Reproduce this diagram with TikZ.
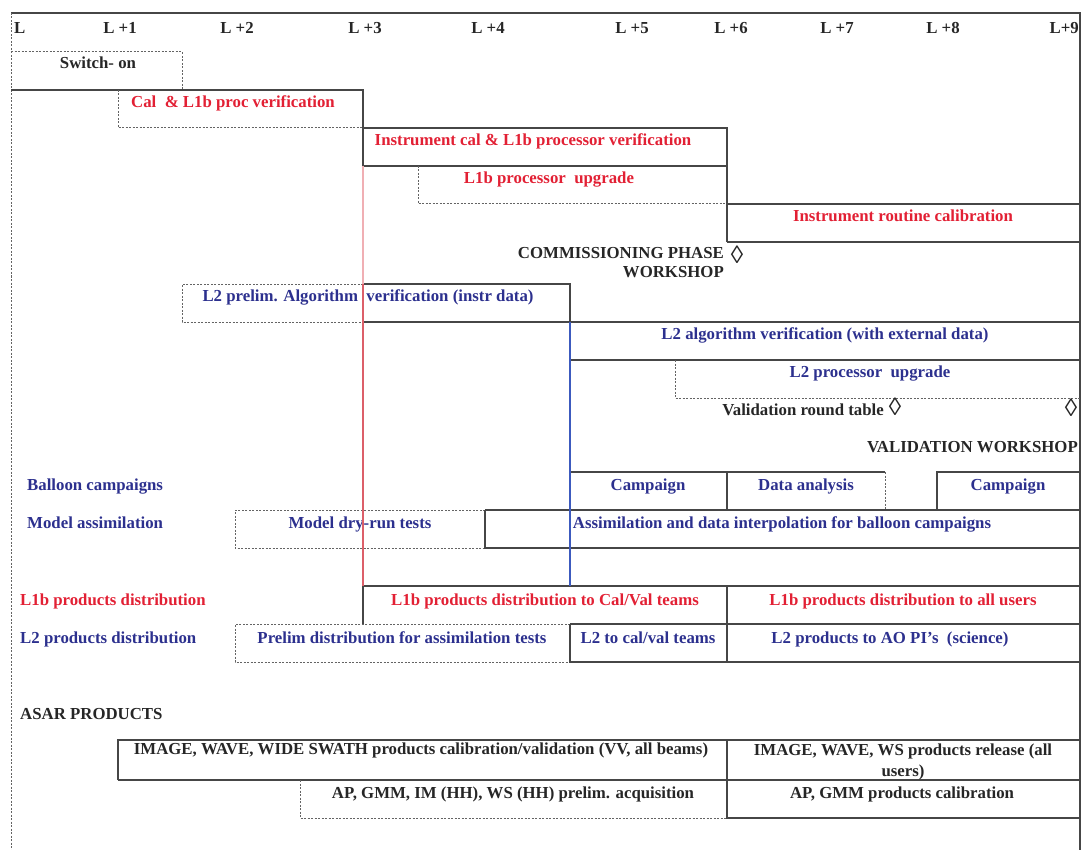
\documentclass[tikz,border=0pt]{standalone}
\usepackage{fontspec}
\setmainfont{Liberation Serif}
\usepackage{tikz}
\usetikzlibrary{positioning}
\definecolor{calred}{RGB}{226,32,52}
\definecolor{calblue}{RGB}{44,48,142}
\definecolor{linegray}{RGB}{70,70,70}
\definecolor{dashgray}{RGB}{100,100,100}
\definecolor{pinkline}{RGB}{240,175,180}
\definecolor{redline}{RGB}{220,95,105}
\definecolor{blueline}{RGB}{60,90,190}
\tikzset{
  lbl/.style={font=\fontsize{16.8}{19}\selectfont\bfseries, inner sep=0pt, anchor=mid, text=black!85, yshift=-2pt},
  redlbl/.style={lbl, text=calred},
  bluelbl/.style={lbl, text=calblue},
  milestone/.style={lbl, font=\fontsize{25}{25}\selectfont},
  solidline/.style={draw=linegray, line width=1.2pt},
  dashline/.style={draw=dashgray, line width=1pt, dash pattern=on 2pt off 1.5pt},
}

\begin{document}
\begin{tikzpicture}[x=1pt,y=-1pt]
  \useasboundingbox (0,0) rectangle (1089,850);
  \draw[solidline, line width=2pt] (11,13) -- (1080,13) -- (1080,850);
  \draw[dashline] (11,13) -- (11,850);

  \node[lbl, anchor=mid west] (hL) at (14,29) {L};
  \node[lbl] (h1) at (120,29) {L +1};
  \node[lbl] (h2) at (237,29) {L +2};
  \node[lbl] (h3) at (365,29) {L +3};
  \node[lbl] (h4) at (488,29) {L +4};
  \node[lbl] (h5) at (632,29) {L +5};
  \node[lbl] (h6) at (731,29) {L +6};
  \node[lbl] (h7) at (837,29) {L +7};
  \node[lbl] (h8) at (943,29) {L +8};
  \node[lbl, anchor=mid east] (h9) at (1079,29) {L+9};

  \draw[dashline] (11,52) -- (182,52) -- (182,90);
  \draw[solidline] (11,90) -- (363,90) -- (363,128);
  \node[lbl] (switchon) at (98,64) {Switch- on};

  \draw[dashline] (118,90) -- (118,128) -- (363,128);
  \draw[solidline] (363,128) -- (727,128) -- (727,242);
  \node[redlbl] (calver) at (233,103) {Cal~ \& L1b proc verification};

  \draw[solidline] (363,128) -- (363,166) -- (727,166);
  \node[redlbl] (instcal) at (533,141) {Instrument cal \& L1b processor verification};

  \draw[dashline] (418,166) -- (418,204) -- (727,204);
  \node[redlbl] (l1bupg) at (549,179) {L1b processor~ upgrade};

  \draw[solidline] (727,204) -- (1080,204);
  \draw[solidline] (727,242) -- (1080,242);
  \node[redlbl] (routine) at (903,217) {Instrument routine calibration};

  \node[lbl, align=right, anchor=north east] (comws) at (724,245) {COMMISSIONING PHASE\\WORKSHOP};
  \node[milestone] (comdia) at (737,259) {◊};

  \draw[dashline] (363,284) -- (182,284) -- (182,322) -- (363,322);
  \draw[solidline] (363,284) -- (570,284) -- (570,322);
  \draw[solidline] (363,322) -- (1080,322);
  \node[bluelbl] (l2prelim) at (368,297) {L2 prelim. Algorithm~ verification (instr data)};

  \draw[solidline] (570,360) -- (1080,360);
  \node[bluelbl] (l2algo) at (825,335) {L2 algorithm verification (with external data)};

  \draw[dashline] (675,360) -- (675,398) -- (1080,398);
  \node[bluelbl] (l2upg) at (870,373) {L2 processor~ upgrade};

  \node[lbl, anchor=mid east] (valrt) at (884,411) {Validation round table};
  \node[milestone] (valdia) at (895,411) {◊};
  \node[milestone] (wsdia) at (1071,412) {◊};
  \node[lbl, anchor=mid east] (valws) at (1078,448) {VALIDATION WORKSHOP};

  \node[bluelbl, anchor=mid west] (balloon) at (27,486) {Balloon campaigns};
  \draw[solidline] (570,472) -- (885,472);
  \draw[dashline] (885,472) -- (885,510);
  \draw[solidline] (727,472) -- (727,510);
  \draw[solidline] (937,510) -- (937,472) -- (1080,472);
  \node[bluelbl] (camp1) at (648,486) {Campaign};
  \node[bluelbl] (dataan) at (806,486) {Data analysis};
  \node[bluelbl] (camp2) at (1008,486) {Campaign};

  \node[bluelbl, anchor=mid west] (model) at (27,524) {Model assimilation};
  \draw[dashline] (485,510) -- (235,510) -- (235,548) -- (485,548);
  \draw[solidline] (485,510) -- (1080,510);
  \draw[solidline] (485,510) -- (485,548) -- (1080,548);
  \node[bluelbl] (dryrun) at (360,524) {Model dry-run tests};
  \node[bluelbl] (assim) at (782,524) {Assimilation and data interpolation for balloon campaigns};

  \node[redlbl, anchor=mid west] (l1bdist) at (20,601) {L1b products distribution};
  \draw[solidline] (363,586) -- (1080,586);
  \draw[solidline] (363,586) -- (363,624);
  \draw[solidline] (727,586) -- (727,662);
  \node[redlbl] (l1bcv) at (545,601) {L1b products distribution to Cal/Val teams};
  \node[redlbl] (l1ball) at (903,601) {L1b products distribution to all users};

  \node[bluelbl, anchor=mid west] (l2dist) at (20,639) {L2 products distribution};
  \draw[dashline] (570,624) -- (235,624) -- (235,662) -- (570,662);
  \draw[solidline] (570,624) -- (1080,624);
  \draw[solidline] (570,624) -- (570,662) -- (1080,662);
  \node[bluelbl] (prelim) at (402,639) {Prelim distribution for assimilation tests};
  \node[bluelbl] (l2cv) at (648,639) {L2 to cal/val teams};
  \node[bluelbl] (l2ao) at (890,639) {L2 products to AO PI's~ (science)};

  \draw[pinkline, line width=1.6pt] (363,166) -- (363,284);
  \draw[redline, line width=1.6pt] (363,284) -- (363,586);
  \draw[blueline, line width=1.6pt] (570,322) -- (570,586);

  \node[lbl, anchor=mid west] (asar) at (20,715) {ASAR PRODUCTS};
  \draw[solidline] (118,780) -- (118,740) -- (1080,740);
  \draw[solidline] (118,780) -- (1080,780);
  \draw[solidline] (727,740) -- (727,818) -- (1080,818);
  \draw[dashline] (300,780) -- (300,818) -- (727,818);
  \node[lbl] (imgcal) at (421,750) {IMAGE, WAVE, WIDE SWATH products calibration/validation (VV, all beams)};
  \node[lbl, align=center, anchor=north, font=\fontsize{16.8}{21}\selectfont\bfseries] (imgrel) at (903,742) {IMAGE, WAVE, WS products release (all\\users)};
  \node[lbl] (apacq) at (513,794) {AP, GMM, IM (HH), WS (HH) prelim. acquisition};
  \node[lbl] (apcal) at (902,794) {AP, GMM products calibration};
\end{tikzpicture}
\end{document}
